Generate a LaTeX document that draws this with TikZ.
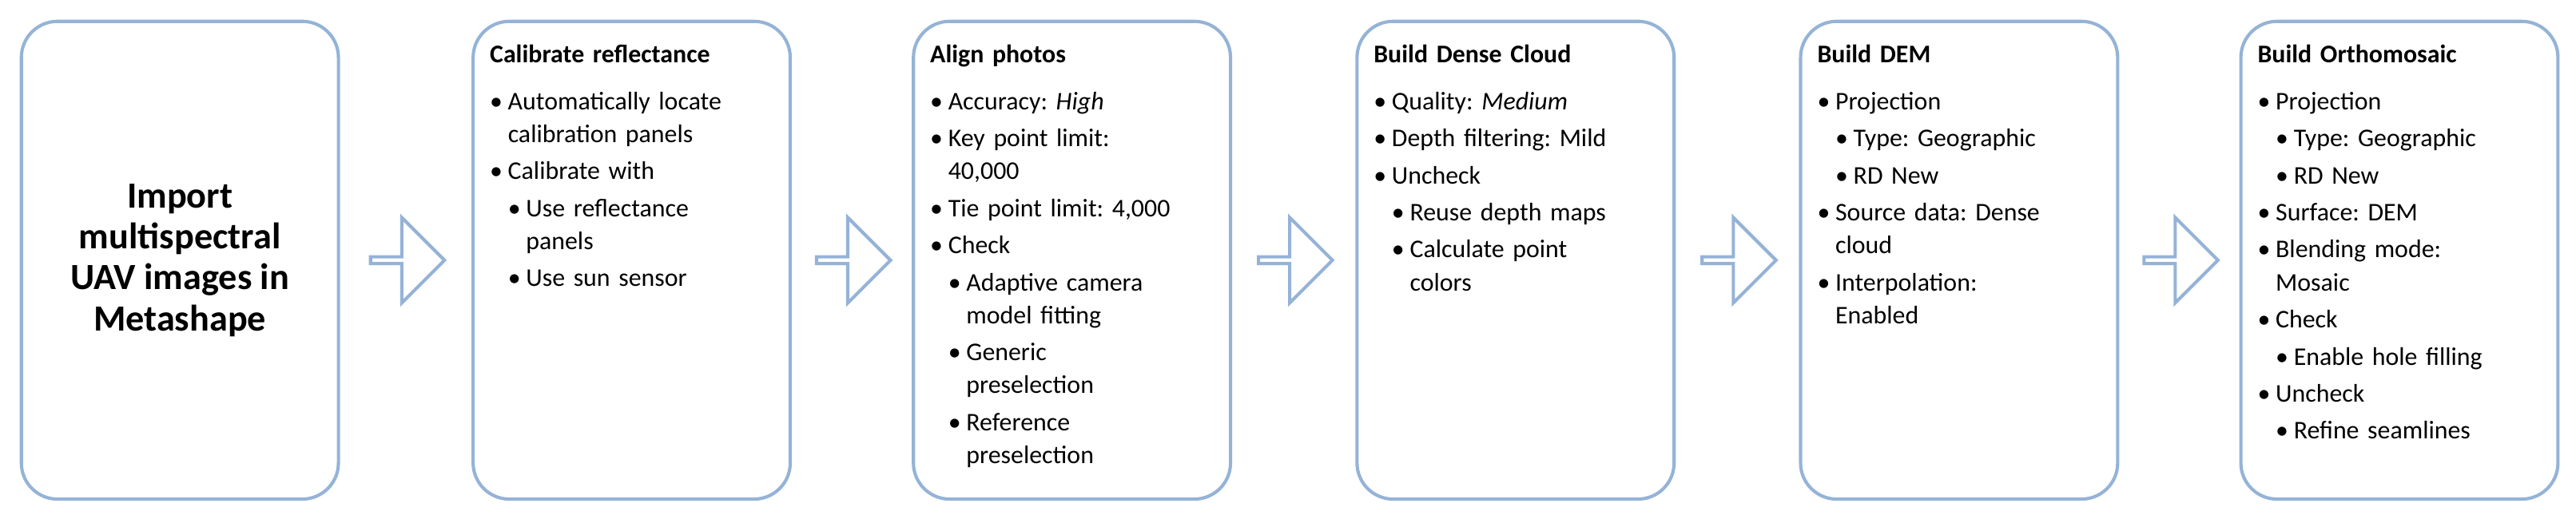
\documentclass[tikz,border=0pt]{standalone}
\usepackage{fontspec}
\setmainfont{Carlito}
\usetikzlibrary{shapes.arrows,calc}
\definecolor{stepblue}{RGB}{149,179,215}
\newcommand\bitem[1]{\par\hangindent=11pt\hangafter=1\makebox[11pt][l]{\textbullet}#1}
\newcommand\sitem[1]{\par\hangindent=22pt\hangafter=1\hspace*{11pt}\makebox[11pt][l]{\textbullet}#1}
\newcommand\steptitle[1]{\textbf{#1}\par\vspace{6pt}}

\begin{document}
\frenchspacing
\begin{tikzpicture}[x=1pt,y=-1pt,
    stepbox/.style={draw=stepblue,line width=2pt,rounded corners=22pt,
        minimum width=193pt,minimum height=291pt,inner sep=0pt},
    steptext/.style={anchor=north west,inner sep=0pt,text width=178pt,align=left,
        font=\fontsize{15.5}{20}\selectfont,
        execute at begin node={\setlength{\parskip}{2.6pt}}},
    steparrow/.style={single arrow,draw=stepblue,line width=2pt,
        minimum height=45pt,minimum width=52pt,single arrow head extend=11.5pt,inner sep=0pt}
]
    \useasboundingbox (0,0) rectangle (1568,316);
    \pgfmathtruncatemacro{\N}{6}
    \foreach \x[count=\n] in {12,287,555,825,1095,1363}{
            \node[stepbox,anchor=north west] (s\n) at (\x,12) {};
        }
    \foreach \n[evaluate=\n as \m using int(\n+1)] in {1,...,5}{
            \node[steparrow] (a\n) at ($(s\n.east)!0.5!(s\m.west)$) {};
        }

    \node[align=center,font=\fontsize{22.5}{25}\selectfont\bfseries] (t1) at (s1) {Import\\multispectral\\UAV images in\\Metashape};
    \node[steptext] (t2) at ([shift={(11,15)}]s2.north west) {\steptitle{Calibrate reflectance}
        \bitem{Automatically locate\newline calibration panels}
        \bitem{Calibrate with}
        \sitem{Use reflectance\newline panels}
        \sitem{Use sun sensor}\par};
    \node[steptext] (t3) at ([shift={(11,15)}]s3.north west) {\steptitle{Align photos}
        \bitem{Accuracy: \emph{High}}
        \bitem{Key point limit:\newline 40,000}
        \bitem{Tie point limit: 4,000}
        \bitem{Check}
        \sitem{Adaptive camera\newline model fitting}
        \sitem{Generic\newline preselection}
        \sitem{Reference\newline preselection}\par};
    \node[steptext] (t4) at ([shift={(11,15)}]s4.north west) {\steptitle{Build Dense Cloud}
        \bitem{Quality: \emph{Medium}}
        \bitem{Depth filtering: Mild}
        \bitem{Uncheck}
        \sitem{Reuse depth maps}
        \sitem{Calculate point\newline colors}\par};
    \node[steptext] (t5) at ([shift={(11,15)}]s5.north west) {\steptitle{Build DEM}
        \bitem{Projection}
        \sitem{Type: Geographic}
        \sitem{RD New}
        \bitem{Source data: Dense\newline cloud}
        \bitem{Interpolation:\newline Enabled}\par};
    \node[steptext] (t6) at ([shift={(11,15)}]s6.north west) {\steptitle{Build Orthomosaic}
        \bitem{Projection}
        \sitem{Type: Geographic}
        \sitem{RD New}
        \bitem{Surface: DEM}
        \bitem{Blending mode:\newline Mosaic}
        \bitem{Check}
        \sitem{Enable hole filling}
        \bitem{Uncheck}
        \sitem{Refine seamlines}\par};
\end{tikzpicture}
\end{document}
